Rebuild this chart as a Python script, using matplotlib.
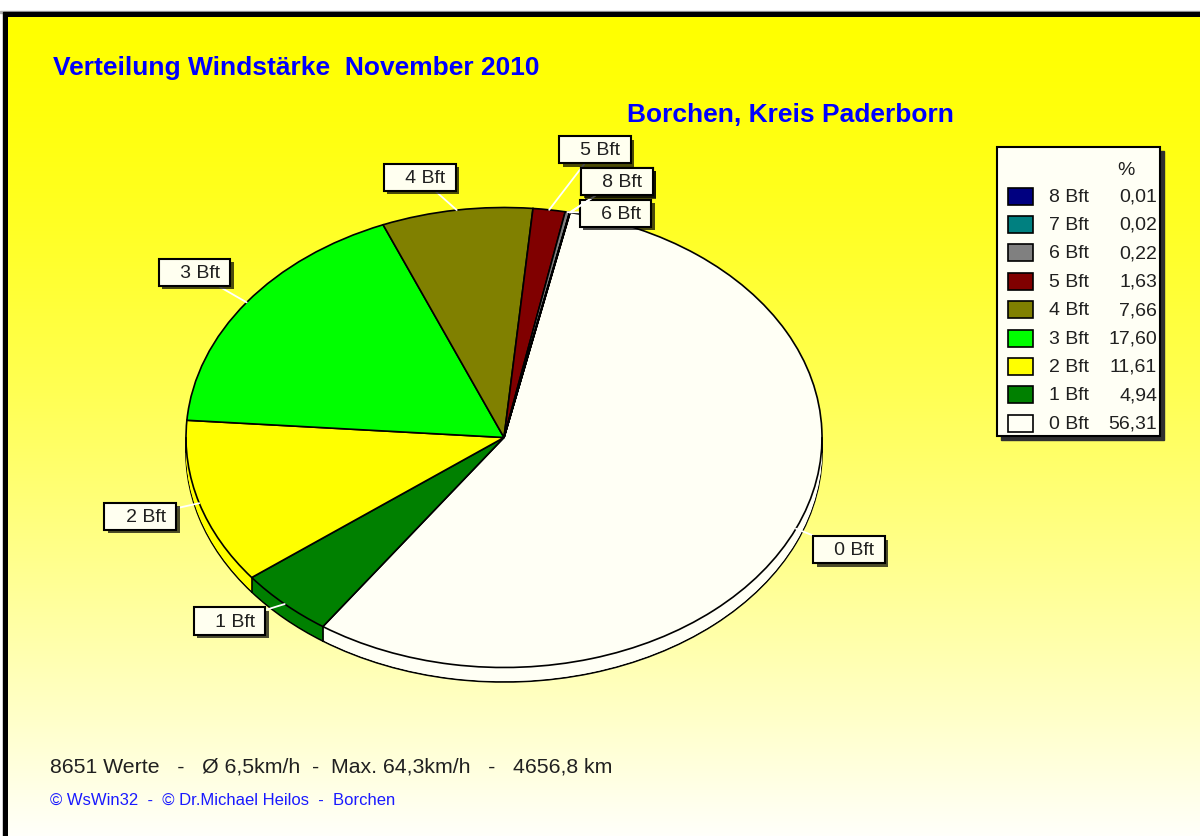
# Verteilung Windstaerke - 3D Tortendiagramm
import numpy as np
import matplotlib.pyplot as plt
from matplotlib.patches import Rectangle
import matplotlib.patheffects as pe

plt.rcParams['font.family'] = ['Liberation Sans', 'DejaVu Sans']

# Daten
stufen = ['0 Bft', '1 Bft', '2 Bft', '3 Bft', '4 Bft', '5 Bft', '6 Bft', '7 Bft', '8 Bft']
anteile = [56.31, 4.94, 11.61, 17.60, 7.66, 1.63, 0.22, 0.02, 0.01]
farben = ['#FFFFF5', '#008000', '#FFFF00', '#00FF00', '#808000',
          '#800000', '#808080', '#008080', '#000080']

titel = 'Verteilung Windstärke  November 2010'
ort = 'Borchen, Kreis Paderborn'
info = '8651 Werte   -   Ø 6,5km/h  -  Max. 64,3km/h   -   4656,8 km'
copyright_txt = '© WsWin32  -  © Dr.Michael Heilos  -  Borchen'

W, H = 1200, 837
fig = plt.figure(figsize=(W / 100, H / 100), dpi=100)

# Hintergrund mit Verlauf (gelb -> hellgelb)
bg = fig.add_axes([0, 0, 1, 1])
bg.axis('off')
bg.add_patch(Rectangle((0, 12), W, 1.5, color='#B0B0B0', zorder=0))
bg.add_patch(Rectangle((3, 13), W, H, color='black', zorder=0))
t = np.linspace(0, 1, 400)
grad = np.ones((400, 1, 3))
grad[:, 0, 2] = 250 * t ** 1.4 / 255
bg.imshow(grad, extent=(8, W, H, 18), aspect='auto', interpolation='bilinear', zorder=0.5)
bg.set_xlim(0, W)
bg.set_ylim(H, 0)

# Torte
ax = fig.add_axes([106.5 / W, 111 / H, 795 / W, 575 / H])
ax.set_zorder(2)
ax.patch.set_alpha(0)
tiefe = 0.063
start = 78
schichten = np.linspace(-tiefe, 0, 16)
for i, dz in enumerate(schichten):
    if i == 0 or i == len(schichten) - 1:
        wp = {'edgecolor': 'black', 'linewidth': 1.2}
    else:
        wp = {'linewidth': 0}
    ax.pie(anteile, colors=farben, startangle=start, counterclock=False,
           center=(0, dz), wedgeprops=wp)

# senkrechte Kanten an der Vorderseite
grenzen = start - np.cumsum([0] + anteile) / 100 * 360
for g in grenzen:
    r = np.radians(g)
    if np.sin(r) < 0:
        ax.plot([np.cos(r)] * 2, [np.sin(r), np.sin(r) - tiefe], color='black', lw=1.2)
for xr in (-1, 1):
    ax.plot([xr, xr], [0, -tiefe], color='black', lw=1.2)

# Beschriftungen
versatz = [(53, -21), (-55, -17), (-59, -13), (-52, 30), (-37, 33),
           (46, 60), (48, -1), (47, 31), (47, 31)]
mitten = (grenzen[:-1] + grenzen[1:]) / 2
for name, m, off in zip(stufen, mitten, versatz):
    r = np.radians(m)
    a = ax.annotate('   ' + name + ' ', xy=(np.cos(r), np.sin(r)), xytext=off,
                    textcoords='offset pixels', ha='center', va='center',
                    fontsize=14, color='#202020',
                    bbox=dict(boxstyle='square,pad=0.26', fc='#FFFFF0', ec='black', lw=1.5),
                    arrowprops=dict(arrowstyle='-', color='white', lw=1.3,
                                    shrinkA=0, shrinkB=0))
    a.get_bbox_patch().set_path_effects([
        pe.SimplePatchShadow(offset=(2.5, -2.5), shadow_rgbFace='black', alpha=0.7),
        pe.Normal()])

ax.set_xlim(-1.25, 1.25)
ax.set_ylim(-1.25, 1.25)
ax.set_aspect('auto')
ax.axis('off')

# Texte
bg.text(53, 68, titel, color='#0000FF', fontsize=19, fontweight='bold', va='center')
bg.text(627, 115, ort, color='#0000FF', fontsize=19, fontweight='bold', va='center')
bg.text(50, 767, info, color='#202020', fontsize=15.3, va='center')
bg.text(50, 800, copyright_txt, color='#1A1AFF', fontsize=12, va='center')

# Legende
bg.add_patch(Rectangle((1001, 152), 163, 289, color='#303030'))
bg.add_patch(Rectangle((997, 148), 163, 289, fc='#FFFFF5', ec='black', lw=1.5))
bg.text(1126, 170, '%', fontsize=14, color='#202020', ha='center', va='center')
for i, k in enumerate(range(len(stufen) - 1, -1, -1)):
    y = 197 + i * 28.4
    bg.add_patch(Rectangle((1008, y - 8.5), 25, 17, fc=farben[k], ec='black', lw=1.2))
    bg.text(1049, y, stufen[k], fontsize=14, color='#202020', va='center')
    bg.text(1157, y, f'{anteile[k]:.2f}'.replace('.', ','), fontsize=14,
            color='#202020', va='center', ha='right')

fig.savefig('out.png', dpi=100)
